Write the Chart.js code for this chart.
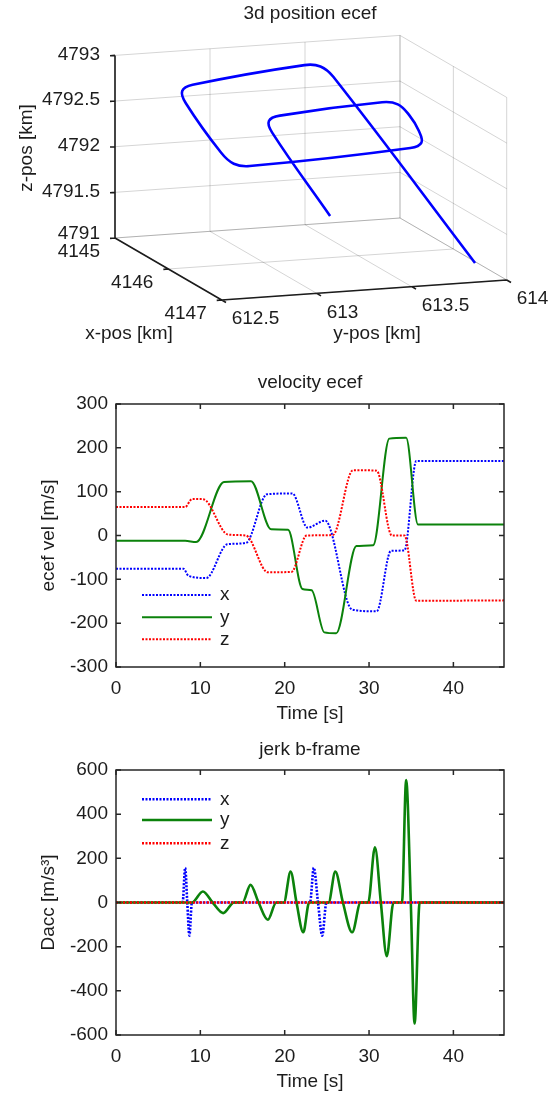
<!DOCTYPE html>
<html><head><meta charset="utf-8">
<script src="https://cdn.jsdelivr.net/npm/chart.js@4.4.1/dist/chart.umd.min.js"></script>
<style>
html,body{margin:0;padding:0;background:#fff;}
body{width:559px;height:1097px;position:relative;overflow:hidden;}
.box{position:absolute;left:0;width:559px;}
canvas{display:block;}
</style></head><body>
<div class="box" style="top:0;height:350px"><canvas id="c1" width="559" height="350"></canvas></div>
<div class="box" style="top:340px;height:390px"><canvas id="c2" width="559" height="390"></canvas></div>
<div class="box" style="top:730px;height:367px"><canvas id="c3" width="559" height="367"></canvas></div>
<script>
// ---------- 3D trajectory (km) ----------
const posX = [4146.400, 4145.635, 4145.531, 4145.490, 4145.430, 4145.450, 4145.529, 4145.641, 4145.722, 4145.746, 4145.705, 4145.677, 4145.605, 4145.295, 4145.220, 4145.184, 4145.086, 4145.108, 4145.203, 4146.873];
const posY = [613.239, 613.149, 613.161, 613.230, 613.785, 613.862, 613.900, 613.919, 613.910, 613.845, 613.011, 612.935, 612.889, 612.790, 612.792, 612.857, 613.473, 613.551, 613.592, 613.869];
const posZ = [4791.609, 4792.275, 4792.365, 4792.400, 4792.445, 4792.418, 4792.321, 4792.185, 4792.084, 4792.043, 4791.953, 4791.980, 4792.082, 4792.534, 4792.642, 4792.688, 4792.781, 4792.762, 4792.675, 4791.163];
const xTicks3 = [4145, 4146, 4147];
const yTicks3 = [612.5, 613, 613.5, 614];
const zTicks3 = [4791, 4791.5, 4792, 4792.5, 4793];

// ---------- velocity ecef (m/s) ----------
const velXt = [0, 8.0, 8.6, 10.7, 13.2, 15.4, 17.9, 20.9, 22.7, 24.8, 28.0, 30.9, 32.6, 34.2, 35.6, 46];
const velXv = [-76, -76, -92, -97, -20, -17, 94, 96, 18, 34, -169, -173, -35, -34, 170, 170];
const velYt = [0, 8.2, 9.5, 12.8, 16.0, 18.4, 20.4, 22.1, 23.2, 24.7, 26.1, 28.5, 30.5, 32.4, 34.4, 35.8, 46];
const velYv = [-12, -12, -15, 122, 124, 14, 13, -122, -125, -221, -223, -24, -22, 221, 223, 25, 25];
const velZt = [0, 8.2, 9.0, 10.3, 13.3, 15.4, 18.0, 20.8, 22.6, 25.7, 28.1, 30.9, 32.7, 34.2, 35.6, 46];
const velZv = [65, 65, 83, 83, 2, 0, -84, -83, 0, 1, 149, 148, 0, 0, -149, -148];

// ---------- jerk b-frame (m/s^3) ----------
const jerkXt = [0, 7.9, 8.2, 8.45, 8.7, 9.0, 23.0, 23.45, 23.95, 24.45, 24.95, 46];
const jerkXv = [0, 0, 157, 0, -150, 0, 0, 157, 0, -150, 0, 0];
const jerkYt = [0, 9.0, 10.3, 11.45, 12.7, 14.0, 15.0, 15.95, 16.9, 18.0, 19.0, 19.9, 20.7, 21.4, 22.2, 22.9, 25.2, 26.0, 26.9, 28.0, 29.0, 29.9, 30.7, 31.4, 32.1, 32.9, 33.9, 34.4, 34.95, 35.4, 36.0, 46];
const jerkYv = [0, 0, 50, 0, -48, 0, 0, 80, 0, -78, 0, 0, 140, 0, -135, 0, 0, 140, 0, -135, 0, 0, 250, 0, -243, 0, 0, 555, 0, -548, 0, 0];
const jerkZt = [0, 46];
const jerkZv = [0, 0];

const seriesLabels = ['x', 'y', 'z'];
const timeRange = [0, 46];
const velRange = [-300, 300];
const jerkRange = [-600, 600];

// ---------- styling ----------
const FONT_FAMILY = '"Liberation Sans", Arial, Helvetica, sans-serif';
const TEXT = '#1c1c1c';
const BLUE = '#0000ff', GREEN = '#0b820b', RED = '#ff0000';
Chart.defaults.font.family = FONT_FAMILY;
Chart.defaults.font.size = 19;
Chart.defaults.color = TEXT;

const toPts = (ts, vs) => ts.map((t, i) => ({x: t, y: vs[i]}));

// 3D view (orthographic projection onto the canvas)
const view = {o: [115, 238], ex: [53.35, 31], ey: [190, -13.33], ez: [0, -91.3]};
function proj(x, y, z) {
  const a = x - xTicks3[0], b = y - yTicks3[0], c = z - zTicks3[0];
  return {x: view.o[0] + a * view.ex[0] + b * view.ey[0] + c * view.ez[0],
          y: view.o[1] + a * view.ex[1] + b * view.ey[1] + c * view.ez[1]};
}
const trajectory = posX.map((x, i) => proj(x, posY[i], posZ[i]));

const X0 = xTicks3[0], X1 = xTicks3[xTicks3.length - 1];
const Y0 = yTicks3[0], Y1 = yTicks3[yTicks3.length - 1];
const Z0 = zTicks3[0], Z1 = zTicks3[zTicks3.length - 1];

function segPush(arr, p, q) { arr.push(p, q, {x: q.x, y: null}); }
const gridPts = [];
yTicks3.forEach(y => segPush(gridPts, proj(X0, y, Z0), proj(X0, y, Z1)));
zTicks3.forEach(z => segPush(gridPts, proj(X0, Y0, z), proj(X0, Y1, z)));
xTicks3.forEach(x => segPush(gridPts, proj(x, Y1, Z0), proj(x, Y1, Z1)));
zTicks3.forEach(z => segPush(gridPts, proj(X0, Y1, z), proj(X1, Y1, z)));
yTicks3.forEach(y => segPush(gridPts, proj(X0, y, Z0), proj(X1, y, Z0)));
xTicks3.forEach(x => segPush(gridPts, proj(x, Y0, Z0), proj(x, Y1, Z0)));

const unit = v => { const n = Math.hypot(v[0], v[1]); return [v[0] / n, v[1] / n]; };
const uY = unit(view.ey), uX = unit(view.ex);
const TL = 5;
const axisPts = [];
segPush(axisPts, proj(X0, Y0, Z0), proj(X0, Y0, Z1));
segPush(axisPts, proj(X0, Y0, Z0), proj(X1, Y0, Z0));
segPush(axisPts, proj(X1, Y0, Z0), proj(X1, Y1, Z0));
zTicks3.forEach(z => { const p = proj(X0, Y0, z); segPush(axisPts, p, {x: p.x - uY[0] * TL, y: p.y - uY[1] * TL}); });
xTicks3.forEach(x => { const p = proj(x, Y0, Z0); segPush(axisPts, p, {x: p.x - uY[0] * TL, y: p.y - uY[1] * TL}); });
yTicks3.forEach(y => { const p = proj(X1, y, Z0); segPush(axisPts, p, {x: p.x + uX[0] * TL, y: p.y + uX[1] * TL}); });

const labels3d = {
  id: 'labels3d',
  afterDraw(chart) {
    const {ctx, scales: {x: sx, y: sy}} = chart;
    const P = (x, y, z) => { const q = proj(x, y, z); return {x: sx.getPixelForValue(q.x), y: sy.getPixelForValue(q.y)}; };
    ctx.save();
    ctx.font = '19px ' + FONT_FAMILY;
    ctx.fillStyle = TEXT;
    ctx.textBaseline = 'middle';
    ctx.textAlign = 'center';
    ctx.fillText('3d position ecef', 310, 14);
    ctx.textAlign = 'right';
    zTicks3.forEach((z, i) => { const p = P(X0, Y0, z); ctx.fillText(String(z), p.x - 15, p.y - (i === 0 ? 4.5 : 1)); });
    xTicks3.forEach(x => { const p = P(x, Y0, Z0); ctx.fillText(String(x), p.x - 15, p.y + 14); });
    ctx.textAlign = 'left';
    yTicks3.forEach(y => { const p = P(X1, y, Z0); ctx.fillText(String(y), p.x + 10, p.y + 19); });
    ctx.textAlign = 'center';
    ctx.fillText('x-pos [km]', 129, 334);
    ctx.fillText('y-pos [km]', 377, 334);
    ctx.translate(27, 148);
    ctx.rotate(-Math.PI / 2);
    ctx.fillText('z-pos [km]', 0, 0);
    ctx.restore();
  }
};

new Chart(document.getElementById('c1'), {
  type: 'scatter',
  data: {datasets: [
    {label: 'path', data: trajectory, showLine: true, borderColor: BLUE, borderWidth: 2.6, tension: 0.4, pointRadius: 0, order: 2},
    {label: 'grid', data: gridPts, showLine: true, borderColor: 'rgba(0,0,0,0.17)', borderWidth: 1, tension: 0, pointRadius: 0, order: 3},
    {label: 'axes', data: axisPts, showLine: true, borderColor: '#1c1c1c', borderWidth: 1.6, tension: 0, pointRadius: 0, order: 1}
  ]},
  options: {
    responsive: false, devicePixelRatio: 1, animation: false,
    layout: {padding: 0},
    scales: {
      x: {type: 'linear', display: false, min: 0, max: 559},
      y: {type: 'linear', display: false, min: 0, max: 350, reverse: true}
    },
    plugins: {legend: {display: false}, tooltip: {enabled: false}}
  },
  plugins: [labels3d]
});

// ---------- 2D charts ----------
const framePlugin = {
  id: 'frame',
  afterDatasetsDraw(chart) {
    const {ctx, chartArea: a, scales: {x, y}} = chart;
    ctx.save();
    ctx.strokeStyle = '#262626';
    ctx.lineWidth = 1.5;
    ctx.strokeRect(a.left, a.top, a.right - a.left, a.bottom - a.top);
    const L = 5;
    ctx.beginPath();
    x.ticks.forEach(t => { const p = x.getPixelForValue(t.value); ctx.moveTo(p, a.bottom); ctx.lineTo(p, a.bottom - L); ctx.moveTo(p, a.top); ctx.lineTo(p, a.top + L); });
    y.ticks.forEach(t => { const p = y.getPixelForValue(t.value); ctx.moveTo(a.left, p); ctx.lineTo(a.left + L, p); ctx.moveTo(a.right, p); ctx.lineTo(a.right - L, p); });
    ctx.stroke();
    ctx.restore();
  }
};
const legendPlugin = {
  id: 'inLegend',
  afterDraw(chart, args, opts) {
    const {ctx, chartArea: a} = chart;
    chart.data.datasets.forEach((ds, i) => {
      const yy = (opts.anchor === 'bottom' ? a.bottom : a.top) + opts.rows[i];
      ctx.save();
      ctx.strokeStyle = ds.borderColor;
      ctx.lineWidth = ds.borderWidth;
      ctx.setLineDash(ds.borderDash || []);
      ctx.beginPath(); ctx.moveTo(a.left + 26, yy); ctx.lineTo(a.left + 96, yy); ctx.stroke();
      ctx.setLineDash([]);
      ctx.fillStyle = TEXT;
      ctx.font = '19px ' + FONT_FAMILY;
      ctx.textBaseline = 'middle'; ctx.textAlign = 'left';
      ctx.fillText(ds.label, a.left + 104, yy);
      ctx.restore();
    });
  }
};

function lineChart(id, cfg) {
  return new Chart(document.getElementById(id), {
    type: 'line',
    data: {datasets: [
      {label: seriesLabels[0], data: cfg.sx, borderColor: BLUE, borderWidth: cfg.lw, borderDash: [2, 1.5], order: 3},
      {label: seriesLabels[1], data: cfg.sy, borderColor: GREEN, borderWidth: cfg.lw, order: 2},
      {label: seriesLabels[2], data: cfg.sz, borderColor: RED, borderWidth: cfg.lw, borderDash: [2, 1.5], order: 1}
    ]},
    options: {
      responsive: false, devicePixelRatio: 1, animation: false,
      layout: {padding: {left: 0, right: 55, top: 0, bottom: 0}},
      elements: {point: {radius: 0}, line: {cubicInterpolationMode: 'monotone', fill: false}},
      scales: {
        x: {type: 'linear', min: timeRange[0], max: timeRange[1],
            ticks: {stepSize: 10, includeBounds: false, padding: 10, maxRotation: 0, color: TEXT},
            grid: {display: false, drawTicks: false}, border: {display: false},
            title: {display: true, text: 'Time [s]', color: TEXT, padding: {top: 0, bottom: cfg.xtPad}},
            afterFit: s => { s.height = cfg.xh; }},
        y: {type: 'linear', min: cfg.yr[0], max: cfg.yr[1],
            ticks: {stepSize: cfg.ystep, padding: 8, color: TEXT},
            grid: {display: false, drawTicks: false}, border: {display: false},
            title: {display: true, text: cfg.ytitle, color: TEXT, padding: {top: 37.6, bottom: 0}},
            afterFit: s => { s.width = 116; }}
      },
      plugins: {
        legend: {display: false}, tooltip: {enabled: false},
        title: {display: true, fullSize: false, text: cfg.title, color: TEXT, font: {size: 19, weight: 'normal'}, padding: cfg.tPad},
        inLegend: {anchor: cfg.legAnchor, rows: cfg.legRows}
      }
    },
    plugins: [framePlugin, legendPlugin]
  });
}

lineChart('c2', {
  sx: toPts(velXt, velXv), sy: toPts(velYt, velYv), sz: toPts(velZt, velZv),
  lw: 2, yr: velRange, ystep: 100, ytitle: 'ecef vel [m/s]', title: 'velocity ecef',
  tPad: {top: 31.6, bottom: 9.6}, xh: 63, xtPad: 5,
  legAnchor: 'bottom', legRows: [-72, -49.7, -27.7]
});
lineChart('c3', {
  sx: toPts(jerkXt, jerkXv), sy: toPts(jerkYt, jerkYv), sz: toPts(jerkZt, jerkZv),
  lw: 2.6, yr: jerkRange, ystep: 200, ytitle: 'Dacc [m/s³]', title: 'jerk b-frame',
  tPad: {top: 8.6, bottom: 8.6}, xh: 62, xtPad: 4,
  legAnchor: 'top', legRows: [29.3, 50, 73.3]
});
</script>
</body></html>
